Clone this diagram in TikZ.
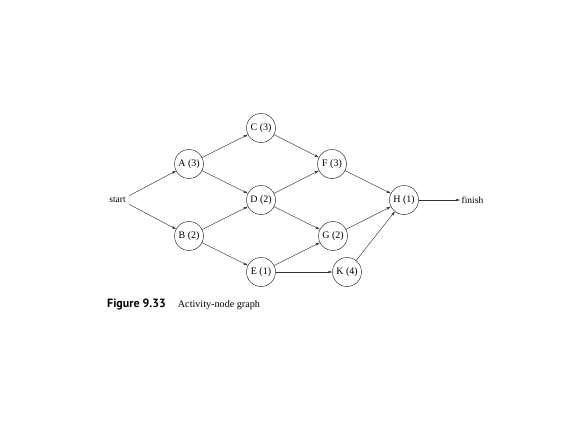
\documentclass[tikz,border=0pt]{standalone}
\usepackage{fontspec}
\setmainfont{Liberation Serif}
\newfontfamily\capsans{PT Sans}
\usetikzlibrary{arrows.meta}
\begin{document}
\begin{tikzpicture}[x=1bp,y=-1bp,
  act/.style={circle,draw=black!80,line width=0.5pt,minimum size=29bp,inner sep=0pt,font=\fontsize{10}{12}\selectfont},
  lbl/.style={font=\fontsize{9.5}{11}\selectfont,inner sep=1.5bp},
  edge/.style={line width=0.45pt,draw=black!80,-{Stealth[length=4.5bp,width=2.6bp]}}]
\useasboundingbox (0,0) rectangle (576,432);
\node[act] (A) at (189,164) {A (3)};
\node[act] (B) at (189,236) {B (2)};
\node[act] (C) at (261,128) {C (3)};
\node[act] (D) at (261,200) {D (2)};
\node[act] (E) at (261,272) {E (1)};
\node[act] (F) at (332,164) {F (3)};
\node[act] (G) at (333,236) {G (2)};
\node[act] (K) at (347,272) {K (4)};
\node[act] (H) at (404,200) {H (1)};
\node[lbl] (start) at (117.5,200) {start};
\node[lbl,anchor=west] (finish) at (460,200) {finish};
\node[anchor=base west,inner sep=0pt] (cap) at (107,307) {{\capsans\bfseries\fontsize{12}{14}\selectfont Figure 9.33}\hspace{12bp}{\fontsize{10.2}{12}\selectfont Activity-node graph}};
\draw[edge] ([xshift=2bp]start.north east) -- (A);
\draw[edge] ([xshift=2bp]start.south east) -- (B);
\draw[edge] (A) -- (C);
\draw[edge] (A) -- (D);
\draw[edge] (B) -- (D);
\draw[edge] (B) -- (E);
\draw[edge] (C) -- (F);
\draw[edge] (D) -- (F);
\draw[edge] (D) -- (G);
\draw[edge] (E) -- (G);
\draw[edge] (E) -- (K);
\draw[edge] (F) -- (H);
\draw[edge] (G) -- (H);
\draw[edge] (K) -- (H);
\draw[edge] (H) -- (finish);
\end{tikzpicture}
\end{document}
